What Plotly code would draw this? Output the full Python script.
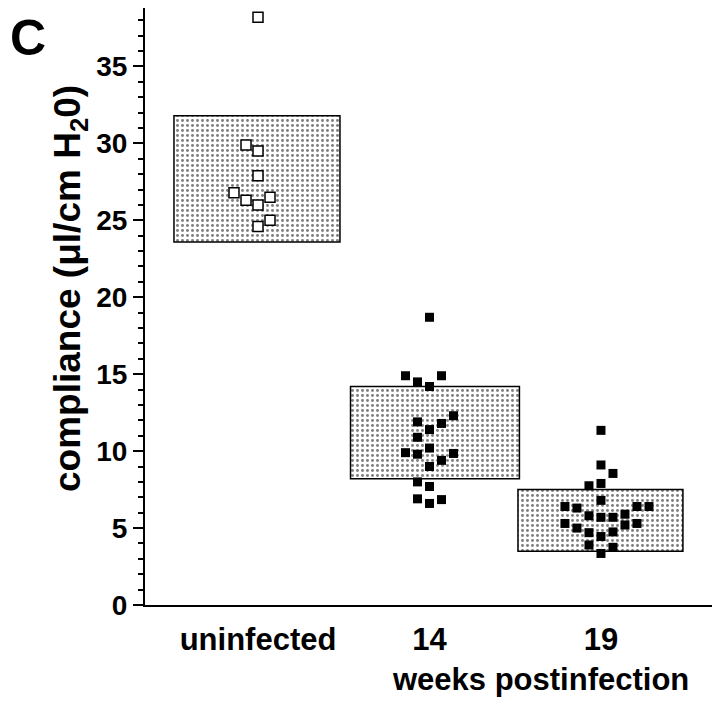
import plotly.graph_objects as go

# groups and box (mean +/- range) values
groups = ["uninfected", "14", "19"]
box_low = [23.6, 8.2, 3.5]
box_high = [31.8, 14.2, 7.5]

# individual animals: value and column offset within the jitter
uninf_y = [38.2, 29.9, 29.5, 27.9, 26.8, 26.3, 26.5, 26.0, 25.0, 24.6]
uninf_col = [0, -1, 0, 0, -2, -1, 1, 0, 1, 0]

wk14_y = [18.7, 14.9, 14.9, 14.5, 14.2, 12.3, 11.9, 11.8, 11.4, 10.9,
          10.2, 9.9, 9.8, 9.85, 9.4, 9.0, 8.0, 7.7, 6.9, 6.6, 6.85]
wk14_col = [0, -2, 1, -1, 0, 2, -1, 1, 0, -1,
            0, -2, -1, 2, 1, 0, -1, 0, -1, 0, 1]

wk19_y = [11.35, 9.1, 8.55, 7.75, 7.9, 6.8, 6.4, 6.3, 6.4, 6.4, 5.9, 5.8,
          5.7, 5.7, 5.3, 5.2, 5.3, 5.0, 4.7, 4.75, 4.45, 3.9, 3.75, 3.35]
wk19_col = [0, 0, 1, -1, 0, 0, -3, -2, 3, 4, 2, -1,
            0, 1, -3, 2, 3, -2, -1, 1, 0, -1, 1, 0]

# layout constants
centers = [1, 2, 3]
box_x = [0.994, 2.032, 2.997]
box_w = [0.968, 0.985, 0.962]
step = 0.07
FONT = "Liberation Sans, Arial, Helvetica, sans-serif"

fig = go.Figure()

# shaded boxes, one bar trace each
for lo, hi, bx, bw in zip(box_low, box_high, box_x, box_w):
    fig.add_trace(go.Bar(
        x=[bx], y=[hi - lo], base=[lo], width=[bw], offset=-bw / 2,
        marker=dict(color="white", line=dict(color="black", width=1.5),
                    pattern=dict(shape=".", fgcolor="black", bgcolor="white",
                                 size=5, solidity=0.28)),
        showlegend=False, hoverinfo="skip"))

fig.add_trace(go.Scatter(
    x=[centers[0] + c * step for c in uninf_col], y=uninf_y, mode="markers",
    marker=dict(symbol="square", size=10, color="white",
                line=dict(color="black", width=1.5)),
    showlegend=False))

fig.add_trace(go.Scatter(
    x=[centers[1] + c * step for c in wk14_col], y=wk14_y, mode="markers",
    marker=dict(symbol="square", size=9, color="black"),
    showlegend=False))

fig.add_trace(go.Scatter(
    x=[centers[2] + c * step for c in wk19_col], y=wk19_y, mode="markers",
    marker=dict(symbol="square", size=9, color="black"),
    showlegend=False))

fig.update_layout(
    width=712, height=700,
    margin=dict(l=137, r=5, t=0, b=103, autoexpand=False),
    plot_bgcolor="white", paper_bgcolor="white",
    font=dict(family=FONT, color="black"),
    barmode="overlay",
    xaxis=dict(range=[0.341, 3.665], tickvals=centers, ticktext=groups,
               ticks="", showgrid=False, zeroline=False,
               showline=True, linecolor="black", linewidth=2,
               tickfont=dict(size=31, family=FONT, weight="bold"),
               ticklabelstandoff=6),
    yaxis=dict(range=[0, 38.8], tickvals=list(range(0, 40, 5)),
               ticks="outside", ticklen=10, tickwidth=2, tickcolor="black",
               minor=dict(dtick=1, ticks="outside", ticklen=5, tickwidth=1.5,
                          tickcolor="black", showgrid=False),
               showgrid=False, zeroline=False,
               showline=True, linecolor="black", linewidth=2,
               tickfont=dict(size=28, family=FONT, weight="bold")),
    annotations=[
        dict(text="compliance (μl/cm H<sub>2</sub>0)", textangle=-90,
             xref="paper", yref="paper", x=-0.1316, y=0.531,
             xanchor="center", yanchor="middle", showarrow=False,
             font=dict(size=37, family=FONT, weight="bold")),
        dict(text="weeks postinfection", xref="x", yref="paper",
             x=2.65, y=-0.1256, xanchor="center", yanchor="middle",
             showarrow=False, font=dict(size=31, family=FONT, weight="bold")),
        dict(text="C", xref="paper", yref="paper", x=-0.2404, y=1.0,
             xanchor="left", yanchor="top",
             showarrow=False, font=dict(size=50, family=FONT, weight="bold")),
    ],
)

fig.write_html("out.html")
